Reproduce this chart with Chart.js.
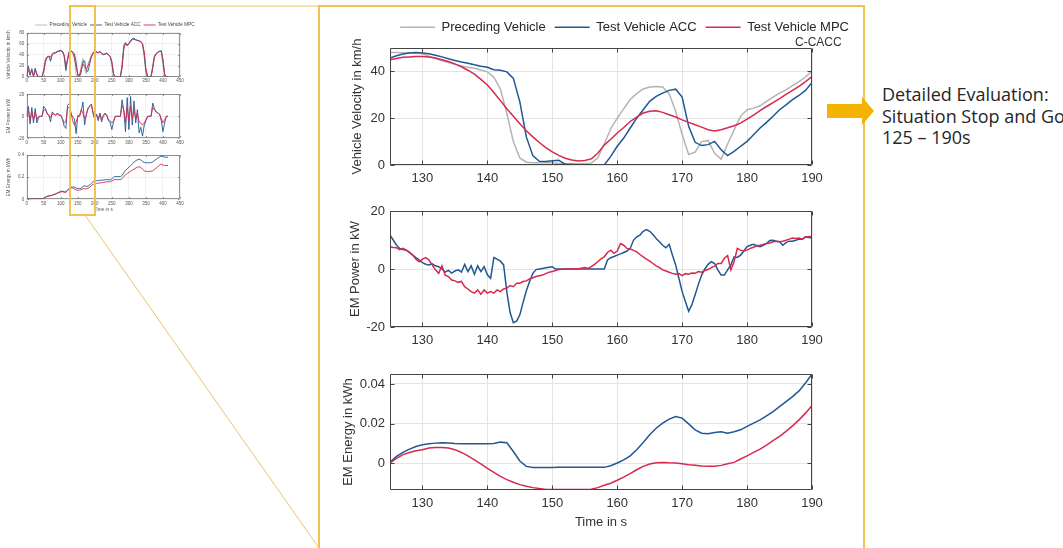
<!DOCTYPE html>
<html>
<head>
<meta charset="utf-8">
<script src="https://cdn.jsdelivr.net/npm/chart.js@4.4.1/dist/chart.umd.min.js"></script>
<style>
  body { margin: 0; background: #fff; width: 1063px; height: 548px; overflow: hidden; position: relative; }
  canvas { position: absolute; }
  .thumb { filter: blur(0.35px); }
  .txt { position: absolute; white-space: nowrap; }
  #note { left: 882px; top: 84px; font: 18px/21.7px 'Open Sans', 'Noto Sans', sans-serif; color: #262626; }
  #tag { left: 795px; top: 35px; font: 12px/14px 'Liberation Sans', Arial, sans-serif; color: #333; }
  svg { position: absolute; left: 0; top: 0; }
</style>
</head>
<body>

<canvas id="thumbVel" class="thumb" width="200" height="72" style="left:0;top:15px"></canvas>
<canvas id="thumbPow" class="thumb" width="200" height="58" style="left:0;top:87px"></canvas>
<canvas id="thumbEng" class="thumb" width="200" height="67" style="left:0;top:148px"></canvas>

<canvas id="velChart" width="530" height="185" style="left:330px;top:10px"></canvas>
<canvas id="powChart" width="530" height="160" style="left:330px;top:195px"></canvas>
<canvas id="engChart" width="530" height="180" style="left:330px;top:360px"></canvas>

<div id="tag" class="txt">C-CACC</div>
<div id="note" class="txt">Detailed Evaluation:<br>Situation Stop and Go<br>125 – 190s</div>

<svg width="1063" height="548">
  <rect x="319" y="6" width="545" height="560" fill="none" stroke="#F2C24F" stroke-width="2"/>
  <rect x="70" y="6" width="25" height="209" fill="none" stroke="#F2C24F" stroke-width="2"/>
  <line x1="95" y1="6" x2="319" y2="6" stroke="#F2C24F" stroke-width="1"/>
  <line x1="85" y1="215" x2="319" y2="548" stroke="#E9C46A" stroke-width="1"/>
  <polygon points="827,104 862,104 862,97 874,111 862,125 862,118 827,118" fill="#F5B301"/>
</svg>

<script>
// ---- detail window 125-190 s ----
const timeTicks = [130, 140, 150, 160, 170, 180, 190];
const velTicks = [0, 20, 40];
const powTicks = [-20, 0, 20];
const engTicks = [0, 0.02, 0.04];

const velTime = [125,126,127,128,129,130,131,132,133,134,135,136,137,138,139,140,141,142,143,144,
  145,146,147,148,149,150,151,152,153,154,155,156,157,158,159,160,161,162,163,164,
  165,166,167,168,169,170,171,172,173,174,175,176,177,178,179,180,181,182,183,184,
  185,186,187,188,189,190];

const velPreceding = [48.1,48.1,48,47.9,47.8,47.5,46.5,45.5,44.5,43.8,43,42.3,41.8,41.3,40.6,39.8,37.5,32.5,22,10,
  3,1.2,1,1,1,1,0.6,0.5,0.5,0.5,0.5,0.8,3,9,15.5,20,24,28,30.5,32.5,
  33.3,33.5,33.3,30.5,23,13,4.5,5.5,10,10.5,5,2.5,9,15,20.8,23.6,24.3,25.3,27.2,29,
  30.7,32.1,33.9,35.6,37.6,40.2];

const velACC = [45.7,46.7,47.4,47.9,48.1,47.9,47.5,46.9,46.2,45.4,44.7,44,43.5,42.8,42.2,41.8,40.7,40.5,39.8,37,
  27,12,4,1.6,1.5,1.8,2,0.3,0.2,0,0,0,0,0,3.7,8,11.5,15.8,20,23.6,
  27.2,29.3,30.7,31.9,32.4,29,16.5,9.7,8.3,8.7,10.1,6.5,4,5.8,8,10.1,12.9,15.8,18.2,20.8,
  23.6,25.7,27.9,29.7,31.9,35.3];

const velMPC = [45,45.5,46,46.2,46.4,46.4,46.2,45.7,45,44.2,43.2,42,40.5,38.8,36.6,34.2,31,27.5,24,20.8,
  17.6,14.6,12,9.6,7.4,5.6,4.1,2.9,2.1,1.7,1.9,2.6,5,8.5,11,13.7,16,18.6,20.5,22.2,
  23,23.2,22.5,21.5,20.5,19.3,18.2,17.2,16.2,15.1,14.5,15.1,15.9,16.8,17.9,19.6,21.3,23.2,25,26.7,
  28.4,30.2,31.9,33.6,35.6,37.8];

const powTime = [125,125.5,126,126.5,127,127.5,128,128.5,129,129.5,
  130,130.5,131,131.5,132,132.5,133,133.5,134,134.5,
  135,135.5,136,136.5,137,137.5,138,138.5,139,139.5,
  140,140.5,141,141.5,142,142.5,143,143.5,144,144.5,
  145,145.5,146,146.5,147,147.5,148,148.5,149,149.5,
  150,150.5,151,151.5,152,152.5,153,153.5,154,154.5,
  155,155.5,156,156.5,157,157.5,158,158.5,159,159.5,
  160,160.5,161,161.5,162,162.5,163,163.5,164,164.5,
  165,165.5,166,166.5,167,167.5,168,168.5,169,169.5,
  170,170.5,171,171.5,172,172.5,173,173.5,174,174.5,
  175,175.5,176,176.5,177,177.5,178,178.5,179,179.5,
  180,180.5,181,181.5,182,182.5,183,183.5,184,184.5,
  185,185.5,186,186.5,187,187.5,188,188.5,189,189.5,
  190];

const powACC = [11.7,10,8.2,7.1,6.7,6.5,5.7,4.8,3.9,3.1,
  2.2,1.6,1.4,1.8,1.1,0.8,0,-1.1,-0.5,-1.4,
  -0.7,-0.3,-1.1,1.6,-0.9,1.1,-1.8,1.1,-0.9,0.8,
  -2,-3.2,3.9,3.4,2.7,1.4,-8,-15,-18.5,-18,
  -15.8,-11.5,-7.5,-4.3,-1.5,-0.2,0,0.2,0.4,0.6,
  0.8,0,0,0,0,0,0,0,0,0,
  0,0,0,0,0,0,0,3.1,3.9,4.3,
  4.8,5.2,5.7,6.2,7.1,9.9,11.1,11.7,13,13.6,
  13,11.9,10.5,9.4,8.2,7.3,8.5,4.8,1.4,-3.2,
  -7.8,-11.2,-14.6,-12.3,-8.9,-5.3,-2.1,0,1.6,2.5,
  1.9,-0.3,-2.1,-2.1,-0.3,1.4,4.2,4,4.8,6.2,
  7.7,8.2,8.5,8,7.7,8.2,8.8,9.8,9.9,9.6,
  9.4,8.2,9.1,9.6,9.6,9.9,10.3,10.3,11.1,10.9,
  10.7];

const powMPC = [7.7,7.4,7.3,6.7,7.1,6.5,5.7,4.8,3.4,2.5,
  3.4,3.9,3.1,1.4,-0.3,-1.5,1.1,-2.1,-2.6,-3.8,
  -4.1,-4.6,-4.3,-6.1,-6.9,-7.8,-8.3,-7.2,-8.7,-7.2,
  -8.3,-7.8,-8.3,-7.2,-7.8,-6.9,-6.6,-5.7,-6.1,-4.9,
  -4.9,-4.3,-4.1,-3.4,-3,-2.6,-2.3,-2.1,-1.6,-1.1,
  -0.9,-0.5,-0.2,-0.1,0,0,0,0.1,0.1,0.3,
  0.5,0.2,0.8,1.6,2.5,3.5,4.2,5.7,6.5,5.4,
  6.2,8.8,8.2,7.1,6.9,6.4,5.9,5,4.2,3.4,
  2.7,1.9,1.1,0.5,-0.3,-0.7,-1.1,-1.5,-1.8,-1.6,
  -2.3,-1.6,-1.8,-1.4,-1.5,-0.9,-1.1,-0.5,-0.2,0.5,
  1,1.9,1.9,3.7,4.6,-0.3,2.5,7.1,6.5,6.2,
  6.5,7.1,7.5,8,8.2,8.5,8.8,9,9.4,9.6,
  9.4,9.6,9.9,10.3,10.7,10.5,10.7,10.3,11,11.2,
  11.1];

const engACC = [0.0005,0.0035,0.0055,0.0072,0.0085,0.0094,0.0099,0.0102,0.0104,0.0102,
  0.0100,0.0099,0.0099,0.0099,0.0099,0.0099,0.0100,0.0107,0.0104,0.0060,
  0.0012,-0.0015,-0.0021,-0.0021,-0.0021,-0.0021,-0.0020,-0.0020,-0.0020,-0.0020,
  -0.0020,-0.0020,-0.0020,-0.0020,-0.0012,0.0002,0.0018,0.0038,0.0069,0.0105,
  0.0144,0.0177,0.0203,0.0223,0.0236,0.0228,0.0199,0.0169,0.0152,0.0149,
  0.0156,0.0159,0.0152,0.0159,0.0169,0.0186,0.0203,0.0219,0.0239,0.0261,
  0.0286,0.0311,0.0336,0.0365,0.0405,0.0450];

const engMPC = [0.0002,0.0025,0.0044,0.0055,0.0064,0.0069,0.0077,0.0080,0.0080,0.0077,
  0.0069,0.0055,0.0038,0.0018,-0.0003,-0.0025,-0.0045,-0.0065,-0.0082,-0.0095,
  -0.0107,-0.0115,-0.0122,-0.0127,-0.0131,-0.0132,-0.0132,-0.0132,-0.0132,-0.0132,
  -0.0132,-0.0130,-0.0122,-0.0110,-0.0100,-0.0085,-0.0069,-0.0052,-0.0032,-0.0015,
  -0.0003,0.0003,0.0005,0.0003,0.0002,-0.0002,-0.0007,-0.0010,-0.0013,-0.0015,
  -0.0015,-0.0010,-0.0002,0.0005,0.0022,0.0038,0.0055,0.0072,0.0092,0.0114,
  0.0136,0.0161,0.0189,0.0219,0.0253,0.0291];

// ---- whole drive (thumbnail) ----
const thumbTimeTicks = [0, 50, 100, 150, 200, 250, 300, 350, 400, 450];
const thumbVelTicks = [0, 20, 40, 60, 80];
const thumbPowTicks = [-20, 0, 20];
const thumbEngTicks = [0, 0.2, 0.4];

const thumbTime = [0,5,10,15,20,25,30,35,40,45, 50,55,60,65,70,75,80,85,90,95,
  100,105,110,115,120,125,130,135,140,145, 150,155,160,165,170,175,180,185,190,195,
  200,205,210,215,220,225,230,235,240,245, 250,255,260,265,270,275,280,285,290,295,
  300,305,310,315,320,325,330,335,340,345, 350,355,360,365,370,375,380,385,390,395,
  400,405,410,415];

const thumbVelPreceding = [0,20,2,16,0,16,2,0,0,0, 15,32,37,38,30,42,44,44,46,47,
  48,45,35,10,35,48,47.5,43,39.8,3, 1,0.5,20,33.3,13,5,23.6,30.7,40.2,45,
  46,44,43,46,41,40,42,43,39,36, 20,0,0,0,0,0,25,58,62,57,
  61,66,69,70,67,66,65,64,58,35, 5,0,0,0,22,38,43,45,47,47,
  20,0,0,0];
const thumbVelACC = [0,18,3,14,0,15,3,0,0,0, 12,30,36,37,28,41,43,44,46,47,
  48,46,38,12,32,45.7,47.9,44.7,41.8,27, 1.8,0,8,27.2,29,10.1,10.1,23.6,35.3,43,
  46,45,43,46,42,40,41,43,40,37, 25,3,0,0,0,0,20,55,62,56,
  60,66,69,70,67,66,65,64,60,40, 10,0,0,0,18,37,42,44,46,47,
  28,2,0,0];
const thumbVelMPC = [0,12,6,10,2,11,5,0,0,0, 8,26,35,37,36,41,43,43,45,46,
  47,46,40,20,30,45,46.4,43.2,34.2,17.6, 5.6,1.9,13.7,23,19.3,14.5,19.6,28.4,37.8,43,
  45,45,44,45,43,41,41,42,40,37, 28,6,0,0,0,0,15,50,60,58,
  60,64,67,68,67,66,65,63,60,45, 15,0,0,0,15,35,41,44,46,46,
  32,5,0,0];

const thumbPowACC = [0,9,-7,8,-6,7,-6,-1,0,0, 9,7,2,1,-5,4,2,1,3,1,
  1,-3,-9,-11,10,11.7,2.2,-0.7,-2,-15.8, 0.8,0,4.8,13,-7.8,1.9,7.7,9.4,10.7,2,
  -3,2,-4,3,-5,1,3,1,-4,-6, -12,-5,0,0,0,0,15,5,-14,17,
  -12,18,-8,14,-6,6,-15,-10,-18,-8, -4,0,0,0,12,7,4,3,2,-4,
  -14,-6,0,0];
const thumbPowMPC = [0,5,-4,4,-3,4,-3,0,0,0, 6,6,3,1,-1,2,2,1,2,1,
  1,-2,-6,-5,8,7.7,3.4,-4.1,-8.3,-4.9, -0.9,0.5,6.2,2.7,-2.3,1,6.5,9.4,11.1,3,
  0,1,-2,2,-3,0,2,1,-3,-4, -6,-4,0,0,0,0,10,6,-6,8,
  -4,9,-2,6,-2,3,-5,-6,-8,-6, -3,0,0,0,8,6,4,3,2,-2,
  -6,-3,0,0];

const thumbEngACC = [0,0.002,0.002,0.004,0.004,0.006,0.006,0.006,0.006,0.006,
  0.01,0.02,0.028,0.031,0.034,0.038,0.045,0.05,0.058,0.065,
  0.072,0.074,0.068,0.066,0.084,0.1,0.109,0.11,0.11,0.101,
  0.098,0.098,0.1,0.114,0.123,0.115,0.119,0.129,0.145,0.16,
  0.165,0.168,0.17,0.172,0.172,0.174,0.176,0.178,0.176,0.175,
  0.185,0.2,0.205,0.205,0.205,0.205,0.215,0.24,0.262,0.275,
  0.29,0.305,0.32,0.335,0.348,0.357,0.362,0.356,0.34,0.332,
  0.33,0.33,0.33,0.33,0.337,0.35,0.362,0.372,0.382,0.39,
  0.386,0.38,0.38,0.38];
const thumbEngMPC = [0,0.001,0.001,0.003,0.003,0.004,0.004,0.004,0.004,0.004,
  0.008,0.017,0.025,0.029,0.032,0.036,0.042,0.047,0.054,0.06,
  0.066,0.068,0.064,0.063,0.078,0.095,0.102,0.102,0.092,0.084,
  0.082,0.082,0.087,0.095,0.095,0.094,0.099,0.109,0.124,0.135,
  0.14,0.143,0.146,0.148,0.15,0.152,0.155,0.158,0.158,0.158,
  0.165,0.175,0.178,0.178,0.178,0.178,0.186,0.205,0.222,0.232,
  0.243,0.253,0.263,0.272,0.282,0.29,0.293,0.288,0.272,0.258,
  0.252,0.252,0.252,0.252,0.258,0.27,0.282,0.295,0.308,0.318,
  0.31,0.305,0.305,0.305];

const GRAY = '#b4b4b4';
const BLUE = '#1f5894';
const RED = '#d6294d';

Chart.defaults.font.family = "'Liberation Sans', Arial, sans-serif";
Chart.defaults.animation = false;

// matlab style box with inner ticks, drawn over the lines
const boxPlugin = {
  id: 'box',
  afterDatasetsDraw(chart, args, opts) {
    const { ctx, chartArea: a } = chart;
    const xs = chart.scales.x, ys = chart.scales.y;
    const len = opts.tick;
    const L = Math.round(a.left) + 0.5, R = Math.round(a.right) - 0.5;
    const T = Math.round(a.top) + 0.5, B = Math.round(a.bottom) - 0.5;
    ctx.save();
    ctx.strokeStyle = opts.color;
    ctx.lineWidth = opts.width;
    ctx.beginPath();
    xs.ticks.forEach(t => {
      const px = Math.round(xs.getPixelForValue(t.value)) + 0.5;
      ctx.moveTo(px, B); ctx.lineTo(px, B - len);
      ctx.moveTo(px, T); ctx.lineTo(px, T + len);
    });
    ys.ticks.forEach(t => {
      const py = Math.round(ys.getPixelForValue(t.value)) + 0.5;
      ctx.moveTo(L, py); ctx.lineTo(L + len, py);
      ctx.moveTo(R, py); ctx.lineTo(R - len, py);
    });
    ctx.rect(L, T, R - L, B - T);
    ctx.stroke();
    ctx.restore();
  }
};

function fixedTicks(values) {
  return scale => { scale.ticks = values.map(v => ({ value: v })); };
}

function series(label, xs, ys, color, width, order) {
  return {
    label,
    data: xs.map((x, i) => ({ x, y: ys[i] })),
    xAxisID: 'x', yAxisID: 'y',
    borderColor: color, backgroundColor: color, borderWidth: width,
    pointRadius: 0, pointHoverRadius: 0, pointStyle: 'line',
    fill: false, tension: 0, order
  };
}

const dummy = (position, fit) => ({
  type: 'linear', position, min: 0, max: 1, afterFit: fit,
  ticks: { display: false }, grid: { display: false }, border: { display: false }
});

function panel(id, o) {
  const scales = {
    x: {
      type: 'linear', min: o.xMin, max: o.xMax,
      afterBuildTicks: fixedTicks(o.xTicks),
      afterFit: s => { s.height = o.xHeight; },
      grid: { color: o.grid, lineWidth: o.gridWidth, drawTicks: false },
      border: { display: false },
      ticks: { font: { size: o.tickSize }, color: o.text, padding: o.xPad, maxRotation: 0, autoSkip: false },
      title: { display: !!o.xTitle, text: o.xTitle || '', font: { size: o.titleSize }, color: o.text, padding: { top: 0, bottom: o.xTitlePad || 0 } }
    },
    y: {
      type: 'linear', min: o.yMin, max: o.yMax,
      afterBuildTicks: fixedTicks(o.yTicks),
      afterFit: s => { s.width = o.yWidth; },
      grid: { color: o.grid, lineWidth: o.gridWidth, drawTicks: false },
      border: { display: false },
      ticks: { font: { size: o.tickSize }, color: o.text, padding: o.yPad, autoSkip: false, callback: v => String(v) },
      title: { display: true, text: o.yTitle, font: { size: o.titleSize }, color: o.text, padding: { top: 0, bottom: 0 } }
    },
    yRight: dummy('right', s => { s.width = o.rightWidth; })
  };
  if (o.topGap) scales.xTop = dummy('top', s => { s.height = o.topGap; });

  return new Chart(document.getElementById(id), {
    type: 'line',
    data: { datasets: o.datasets },
    options: {
      responsive: false,
      animation: false,
      events: [],
      layout: { padding: o.padding },
      plugins: {
        legend: o.legend || { display: false },
        tooltip: { enabled: false },
        box: { tick: o.boxTick, color: o.boxColor, width: o.boxWidth }
      },
      scales
    },
    plugins: [boxPlugin]
  });
}

const mainStyle = {
  xMin: 125, xMax: 190, xTicks: timeTicks,
  grid: '#e4e4e4', gridWidth: 1, tickSize: 13, titleSize: 13, text: '#333',
  xPad: 6, yPad: 5, rightWidth: 46,
  boxTick: 4, boxColor: '#444', boxWidth: 1
};

panel('velChart', Object.assign({}, mainStyle, {
  datasets: [
    series('Preceding Vehicle', velTime, velPreceding, GRAY, 1.5, 2),
    series('Test Vehicle ACC', velTime, velACC, BLUE, 1.5, 1),
    series('Test Vehicle MPC', velTime, velMPC, RED, 1.5, 0)
  ],
  yMin: 0, yMax: 50, yTicks: velTicks, yTitle: 'Vehicle Velocity in km/h',
  yWidth: 40, xHeight: 30, topGap: 4.2,
  padding: { left: 20, right: 2, top: 1.8, bottom: 0 },
  legend: {
    display: true, position: 'top', align: 'end',
    labels: {
      usePointStyle: true, pointStyle: 'line', pointStyleWidth: 35, padding: 9,
      font: { size: 13 }, color: '#262626',
      sort: (a, b) => a.datasetIndex - b.datasetIndex
    }
  }
}));

panel('powChart', Object.assign({}, mainStyle, {
  datasets: [
    series('Test Vehicle ACC', powTime, powACC, BLUE, 1.5, 1),
    series('Test Vehicle MPC', powTime, powMPC, RED, 1.5, 0)
  ],
  yMin: -20, yMax: 20, yTicks: powTicks, yTitle: 'EM Power in kW',
  yWidth: 42, xHeight: 28,
  padding: { left: 18, right: 2, top: 16, bottom: 0 }
}));

panel('engChart', Object.assign({}, mainStyle, {
  datasets: [
    series('Test Vehicle ACC', velTime, engACC, BLUE, 1.5, 1),
    series('Test Vehicle MPC', velTime, engMPC, RED, 1.5, 0)
  ],
  yMin: -0.0134, yMax: 0.045, yTicks: engTicks, yTitle: 'EM Energy in kWh',
  yWidth: 49, xHeight: 50, xTitle: 'Time in s', xTitlePad: 9.5,
  padding: { left: 11, right: 2, top: 14, bottom: 0 }
}));

const thumbStyle = {
  xMin: 0, xMax: 450, xTicks: thumbTimeTicks,
  grid: '#e6e6e6', gridWidth: 0.6, tickSize: 4.5, titleSize: 4.7, text: '#555',
  xPad: 1.5, yPad: 2.4, yWidth: 21.3, rightWidth: 17.7,
  boxTick: 1.5, boxColor: '#666', boxWidth: 0.7
};

panel('thumbVel', Object.assign({}, thumbStyle, {
  datasets: [
    series('Preceding Vehicle', thumbTime, thumbVelPreceding, GRAY, 0.9, 2),
    series('Test Vehicle ACC', thumbTime, thumbVelACC, BLUE, 0.9, 1),
    series('Test Vehicle MPC', thumbTime, thumbVelMPC, RED, 0.9, 0)
  ],
  yMin: 0, yMax: 80, yTicks: thumbVelTicks, yTitle: 'Vehicle Velocity in km/h',
  xHeight: 10.3,
  padding: { left: 5.4, right: 2.3, top: 4.65, bottom: 0 },
  legend: {
    display: true, position: 'top', align: 'end', maxHeight: 13.05,
    labels: {
      usePointStyle: true, pointStyle: 'line', pointStyleWidth: 12, padding: 3,
      font: { size: 4.7 }, color: '#444',
      sort: (a, b) => a.datasetIndex - b.datasetIndex
    }
  }
}));

panel('thumbPow', Object.assign({}, thumbStyle, {
  datasets: [
    series('Test Vehicle ACC', thumbTime, thumbPowACC, BLUE, 0.9, 1),
    series('Test Vehicle MPC', thumbTime, thumbPowMPC, RED, 0.9, 0)
  ],
  yMin: -20, yMax: 20, yTicks: thumbPowTicks, yTitle: 'EM Power in kW',
  xHeight: 6.7,
  padding: { left: 5.4, right: 2.3, top: 7.3, bottom: 0 }
}));

panel('thumbEng', Object.assign({}, thumbStyle, {
  datasets: [
    series('Test Vehicle ACC', thumbTime, thumbEngACC, BLUE, 0.9, 1),
    series('Test Vehicle MPC', thumbTime, thumbEngMPC, RED, 0.9, 0)
  ],
  yMin: 0, yMax: 0.4, yTicks: thumbEngTicks, yTitle: 'EM Energy in kWh',
  xHeight: 15.7, xTitle: 'Time in s', xTitlePad: 2.2,
  padding: { left: 5.4, right: 2.3, top: 7, bottom: 0 }
}));
</script>
</body>
</html>
